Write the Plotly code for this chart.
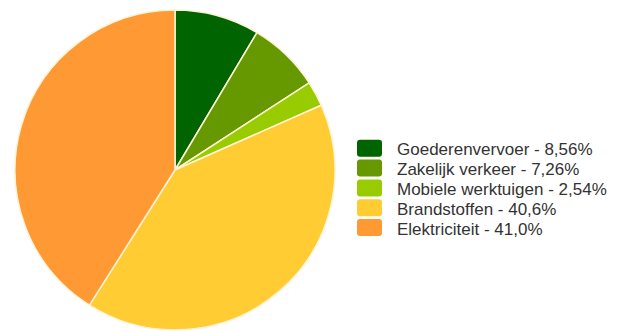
import plotly.graph_objects as go

categories = ["Goederenvervoer", "Zakelijk verkeer", "Mobiele werktuigen", "Brandstoffen", "Elektriciteit"]
values = [8.56, 7.26, 2.54, 40.6, 41.0]
colors = ["#006400", "#669900", "#99cc00", "#ffcc33", "#ff9933"]

legend_names = [f"{c} - {format(v, '#.3g').replace('.', ',')}%" for c, v in zip(categories, values)]

W, H = 623, 332
cx, cy, r = 175, 170, 160

fig = go.Figure(go.Pie(
    labels=legend_names,
    values=values,
    marker=dict(colors=colors, line=dict(color="#fff3d6", width=1.5)),
    sort=False,
    direction="clockwise",
    rotation=0,
    textinfo="none",
    hoverinfo="label",
    showlegend=False,
    domain=dict(x=[(cx - r) / W, (cx + r) / W], y=[(H - cy - r) / H, (H - cy + r) / H]),
))

# custom legend (swatches + text) laid out in pixel units
sw_x0, sw_x1, sw_h = 357, 382, 17
row0, pitch = 148.3, 19.8
text_x = 395
rr = 3


def px_x(x):
    return x / W


def px_y(y):
    return 1 - y / H


for i, (name, col) in enumerate(zip(legend_names, colors)):
    yc = row0 + i * pitch
    y0, y1 = yc - sw_h / 2, yc + sw_h / 2
    # rounded rectangle path in paper coords
    x0, x1 = px_x(sw_x0), px_x(sw_x1)
    rx, ry = rr / W, rr / H
    Y0, Y1 = px_y(y1), px_y(y0)
    path = (f"M {x0 + rx},{Y0} L {x1 - rx},{Y0} Q {x1},{Y0} {x1},{Y0 + ry} "
            f"L {x1},{Y1 - ry} Q {x1},{Y1} {x1 - rx},{Y1} L {x0 + rx},{Y1} "
            f"Q {x0},{Y1} {x0},{Y1 - ry} L {x0},{Y0 + ry} Q {x0},{Y0} {x0 + rx},{Y0} Z")
    fig.add_shape(type="path", path=path, xref="paper", yref="paper",
                  fillcolor=col, line=dict(width=0))
    fig.add_annotation(x=px_x(text_x), y=px_y(yc + 1.5), xref="paper", yref="paper",
                       text=name, showarrow=False, xanchor="left", yanchor="middle",
                       font=dict(family="Liberation Sans, Arial, sans-serif", size=17,
                                 color="#333333"))

fig.update_layout(
    width=W, height=H,
    margin=dict(l=0, r=0, t=0, b=0),
    paper_bgcolor="white",
    plot_bgcolor="white",
    showlegend=False,
    font=dict(family="Liberation Sans, Arial, sans-serif", size=14, color="#333333"),
)

fig.write_html("out.html")
